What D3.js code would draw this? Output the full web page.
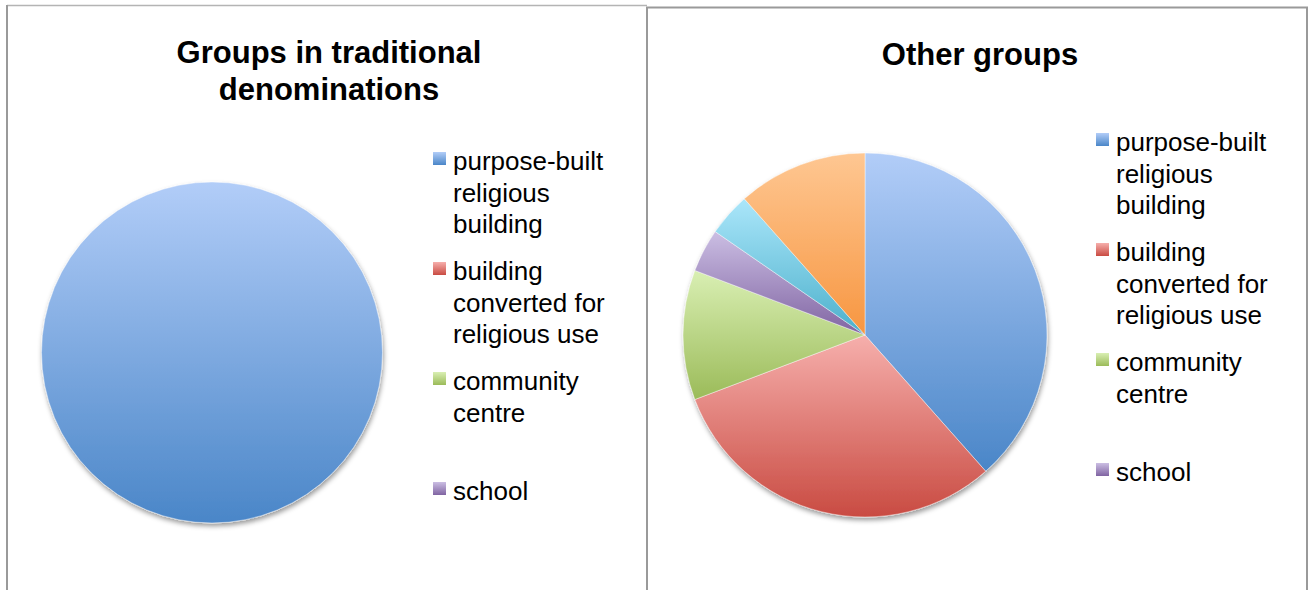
<!DOCTYPE html>
<html>
<head>
<meta charset="utf-8">
<script src="https://cdn.jsdelivr.net/npm/d3@7"></script>
<style>
  html, body { margin: 0; padding: 0; background: #fff; }
  svg { display: block; font-family: "Liberation Sans", Arial, sans-serif; }
</style>
</head>
<body>
<svg id="chart" width="1316" height="590"></svg>
<script>
// ---- data ----
const categories = [
  "purpose-built religious building",
  "building converted for religious use",
  "community centre",
  "school",
  "private home",
  "other"
];
const legendLines = [
  ["purpose-built", "religious", "building"],
  ["building", "converted for", "religious use"],
  ["community", "centre"],
  ["school"],
  ["private home"],
  ["other"]
];
const traditionalValues = [100, 0, 0, 0, 0, 0];
const otherValues = [10, 8, 3, 1, 1, 3];
const titles = [["Groups in traditional", "denominations"], ["Other groups"]];
const baseColors = ["#4a86c8", "#c94b42", "#9bbb59", "#8064a2", "#4bb0cb", "#f79641"];
const lightColors = ["#b2cdf8", "#f6afac", "#d9efb3", "#cbbee3", "#abe6fa", "#fec792"];
// number of legend entries that fit in the visible frame
const legendVisible = 4;

const svg = d3.select("#chart");
const defs = svg.append("defs");

categories.forEach((c, i) => {
  const g = defs.append("linearGradient")
    .attr("id", "grad" + i)
    .attr("x1", 0).attr("y1", 0).attr("x2", 0).attr("y2", 1);
  g.append("stop").attr("offset", "0%").attr("stop-color", lightColors[i]);
  g.append("stop").attr("offset", "100%").attr("stop-color", baseColors[i]);
});

const f = defs.append("filter").attr("id", "shadow")
  .attr("x", "-10%").attr("y", "-10%").attr("width", "120%").attr("height", "125%");
f.append("feDropShadow").attr("dx", 1).attr("dy", 3).attr("stdDeviation", 2.5)
  .attr("flood-color", "#000").attr("flood-opacity", 0.4);

// panel borders
svg.append("line").attr("x1", 7).attr("x2", 647).attr("y1", 5.5).attr("y2", 5.5)
  .attr("stroke", "#b4b4b4").attr("stroke-width", 1.5);
svg.append("line").attr("x1", 7).attr("x2", 7).attr("y1", 5).attr("y2", 590)
  .attr("stroke", "#9a9a9a").attr("stroke-width", 2);
svg.append("path")
  .attr("d", "M647,590 L647,7.5 L1307,7.5 L1307,590")
  .attr("fill", "none").attr("stroke", "#9a9a9a").attr("stroke-width", 2);

const panels = [
  { values: traditionalValues, title: titles[0], cx: 212, cy: 352.5, r: 170.5,
    titleX: 329, titleY: 63, legendX: 433, legendY: 170 },
  { values: otherValues, title: titles[1], cx: 865, cy: 335, r: 182,
    titleX: 980, titleY: 65, legendX: 1096, legendY: 151 }
];

const pie = d3.pie().sort(null).value(d => d.v).startAngle(0).endAngle(2 * Math.PI);

panels.forEach(p => {
  // title
  const t = svg.append("text")
    .attr("x", p.titleX).attr("y", p.titleY)
    .attr("text-anchor", "middle")
    .attr("font-weight", "bold").attr("font-size", 31).attr("fill", "#000");
  p.title.forEach((line, k) => {
    t.append("tspan").attr("x", p.titleX).attr("dy", k === 0 ? 0 : 37).text(line);
  });

  // pie
  const data = categories.map((c, i) => ({ c, i, v: p.values[i] }));
  const arc = d3.arc().innerRadius(0).outerRadius(p.r);
  const g = svg.append("g")
    .attr("transform", `translate(${p.cx},${p.cy})`)
    .attr("filter", "url(#shadow)");
  g.selectAll("path")
    .data(pie(data).filter(d => d.data.v > 0))
    .join("path")
    .attr("d", arc)
    .attr("fill", d => `url(#grad${d.data.i})`)
    .attr("stroke", "rgba(255,255,255,0.55)")
    .attr("stroke-width", 0.8);

  // legend (only the entries that fit in the frame are shown)
  const lg = svg.append("g");
  categories.slice(0, legendVisible).forEach((c, i) => {
    const by = p.legendY + i * 110;
    lg.append("rect")
      .attr("x", p.legendX).attr("y", by - 18)
      .attr("width", 13).attr("height", 13)
      .attr("fill", `url(#grad${i})`);
    const tx = lg.append("text")
      .attr("x", p.legendX + 20).attr("y", by)
      .attr("font-size", 26).attr("fill", "#000");
    legendLines[i].forEach((line, k) => {
      tx.append("tspan").attr("x", p.legendX + 20).attr("dy", k === 0 ? 0 : 31.5).text(line);
    });
  });
});
</script>
</body>
</html>
